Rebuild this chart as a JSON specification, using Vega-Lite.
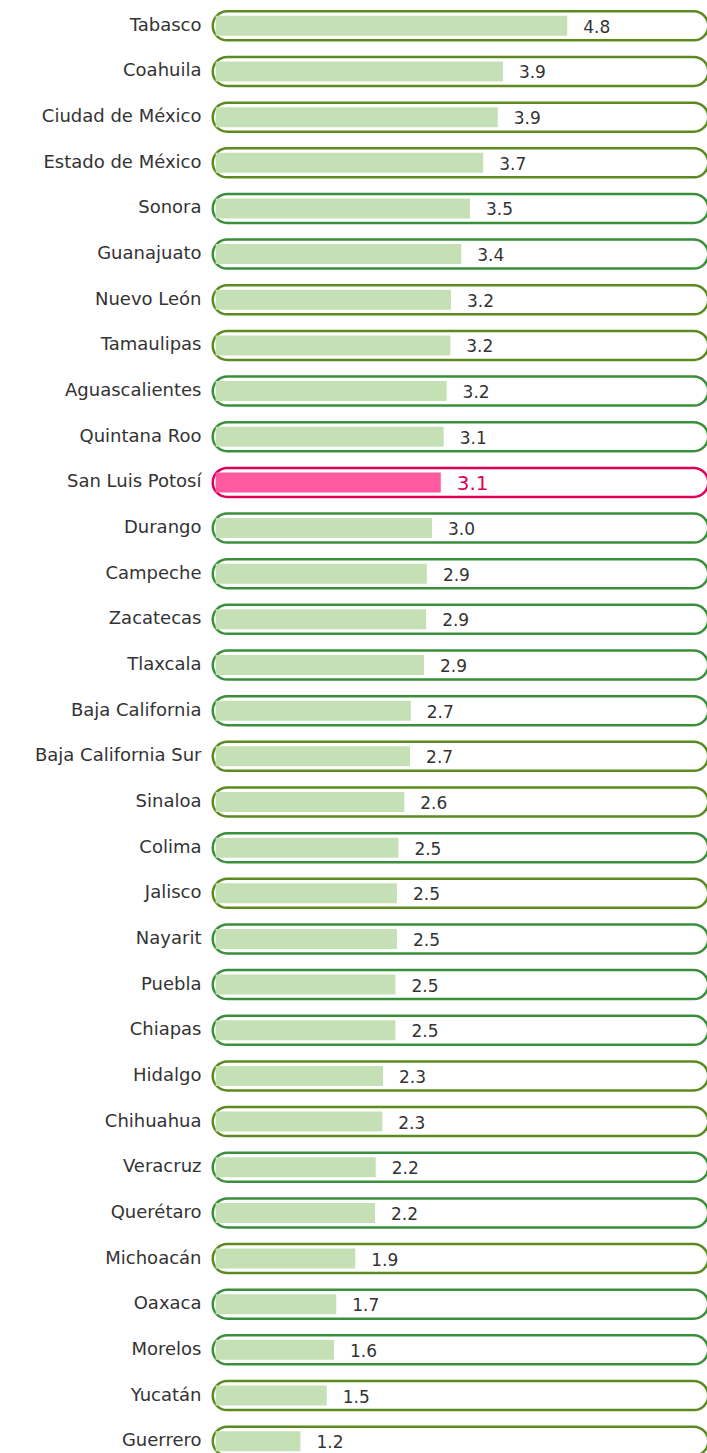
{
  "$schema": "https://vega.github.io/schema/vega-lite/v6.json",
  "width": 497,
  "height": 1461,
  "autosize": "none",
  "padding": {"left": 212, "top": 3, "right": 0, "bottom": 0},
  "background": "white",
  "config": {"view": {"stroke": null}},
  "data": {
    "values": [
      {"estado": "Tabasco", "v": 4.81, "t": "4.8", "g": "o"},
      {"estado": "Coahuila", "v": 3.93, "t": "3.9", "g": "o"},
      {"estado": "Ciudad de México", "v": 3.86, "t": "3.9", "g": "o"},
      {"estado": "Estado de México", "v": 3.66, "t": "3.7", "g": "o"},
      {"estado": "Sonora", "v": 3.48, "t": "3.5", "g": "g"},
      {"estado": "Guanajuato", "v": 3.36, "t": "3.4", "g": "g"},
      {"estado": "Nuevo León", "v": 3.22, "t": "3.2", "g": "o"},
      {"estado": "Tamaulipas", "v": 3.21, "t": "3.2", "g": "o"},
      {"estado": "Aguascalientes", "v": 3.16, "t": "3.2", "g": "g"},
      {"estado": "Quintana Roo", "v": 3.12, "t": "3.1", "g": "g"},
      {"estado": "San Luis Potosí", "v": 3.08, "t": "3.1", "g": "p"},
      {"estado": "Durango", "v": 2.96, "t": "3.0", "g": "g"},
      {"estado": "Campeche", "v": 2.89, "t": "2.9", "g": "g"},
      {"estado": "Zacatecas", "v": 2.88, "t": "2.9", "g": "g"},
      {"estado": "Tlaxcala", "v": 2.85, "t": "2.9", "g": "g"},
      {"estado": "Baja California", "v": 2.67, "t": "2.7", "g": "g"},
      {"estado": "Baja California Sur", "v": 2.66, "t": "2.7", "g": "o"},
      {"estado": "Sinaloa", "v": 2.58, "t": "2.6", "g": "o"},
      {"estado": "Colima", "v": 2.5, "t": "2.5", "g": "g"},
      {"estado": "Jalisco", "v": 2.48, "t": "2.5", "g": "o"},
      {"estado": "Nayarit", "v": 2.48, "t": "2.5", "g": "g"},
      {"estado": "Puebla", "v": 2.46, "t": "2.5", "g": "g"},
      {"estado": "Chiapas", "v": 2.46, "t": "2.5", "g": "g"},
      {"estado": "Hidalgo", "v": 2.29, "t": "2.3", "g": "o"},
      {"estado": "Chihuahua", "v": 2.28, "t": "2.3", "g": "o"},
      {"estado": "Veracruz", "v": 2.19, "t": "2.2", "g": "g"},
      {"estado": "Querétaro", "v": 2.18, "t": "2.2", "g": "g"},
      {"estado": "Michoacán", "v": 1.91, "t": "1.9", "g": "o"},
      {"estado": "Oaxaca", "v": 1.65, "t": "1.7", "g": "g"},
      {"estado": "Morelos", "v": 1.62, "t": "1.6", "g": "g"},
      {"estado": "Yucatán", "v": 1.52, "t": "1.5", "g": "o"},
      {"estado": "Guerrero", "v": 1.16, "t": "1.2", "g": "o"}
    ]
  },
  "encoding": {
    "y": {
      "field": "estado",
      "type": "nominal",
      "sort": null,
      "scale": {"paddingInner": 0, "paddingOuter": 0},
      "axis": {
        "title": null,
        "domain": false,
        "ticks": false,
        "labelPadding": 11,
        "labelFont": "DejaVu Sans",
        "labelFontSize": 18,
        "labelColor": "#333333",
        "labelLimit": 260
      }
    }
  },
  "layer": [
    {
      "mark": {"type": "bar", "size": 29, "cornerRadius": 14.5, "fill": "white", "strokeWidth": 2.5},
      "encoding": {
        "x": {"datum": -0.04, "type": "quantitative", "scale": {"domain": [-0.05, 6.75], "nice": false, "zero": false}, "axis": null},
        "x2": {"datum": 6.74},
        "stroke": {
          "field": "g",
          "type": "nominal",
          "scale": {"domain": ["o", "g", "p"], "range": ["#5b8a1e", "#3a8f3a", "#e0005a"]},
          "legend": null
        }
      }
    },
    {
      "mark": {"type": "bar", "size": 20},
      "encoding": {
        "x": {"field": "v", "type": "quantitative", "axis": null},
        "color": {"condition": {"test": "datum.g === 'p'", "value": "#ff5aa0"}, "value": "#c5e0b4"}
      }
    },
    {
      "mark": {"type": "text", "align": "left", "baseline": "middle", "dx": 16, "dy": 2, "font": "DejaVu Sans"},
      "encoding": {
        "x": {"field": "v", "type": "quantitative", "axis": null},
        "text": {"field": "t"},
        "color": {"condition": {"test": "datum.g === 'p'", "value": "#e0005a"}, "value": "#333333"},
        "size": {"condition": {"test": "datum.g === 'p'", "value": 20}, "value": 17}
      }
    }
  ]
}
